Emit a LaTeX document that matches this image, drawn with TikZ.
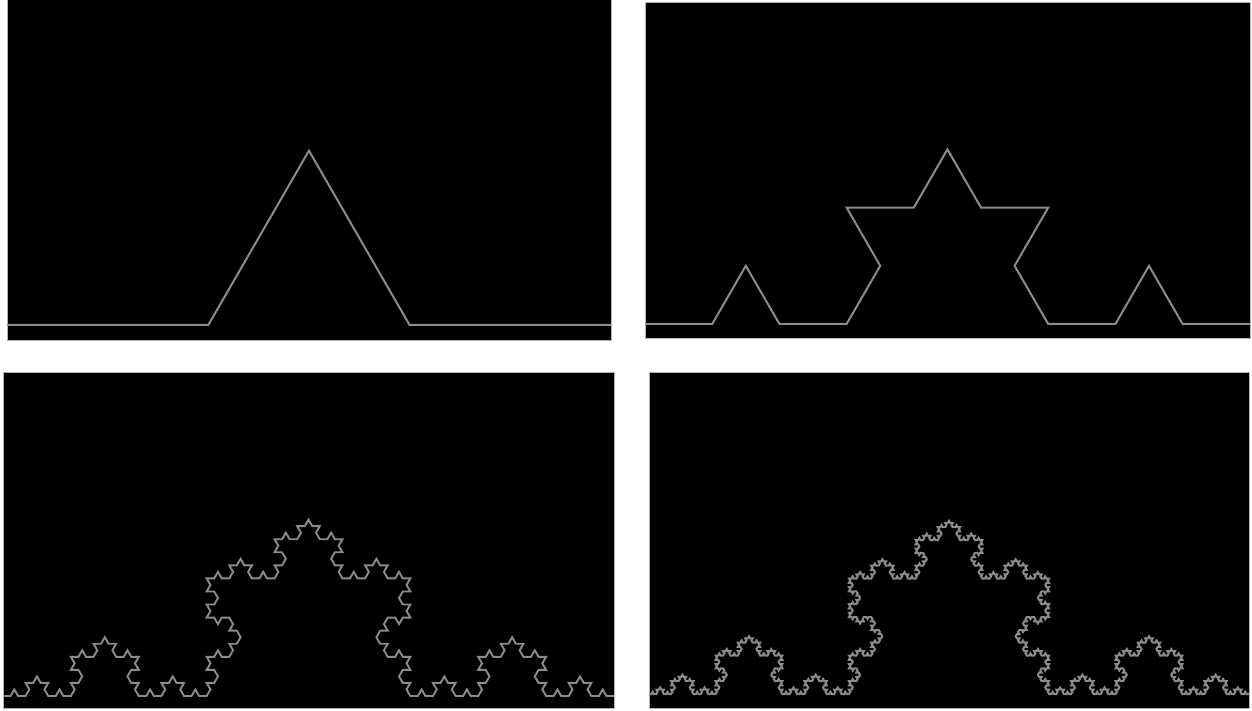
\documentclass[tikz,border=0pt]{standalone}
\usepackage{tikz}
\usetikzlibrary{lindenmayersystems}

% Koch curve rule
\pgfdeclarelindenmayersystem{Koch}{
  \rule{F -> F+F--F+F}
}

\begin{document}
\begin{tikzpicture}[
    x=1pt, y=1pt,
    panel/.style={fill=black, draw=gray!60, line width=0.8pt},
    koch/.style={draw=gray!90!white, line width=2pt, line join=miter}
]
\useasboundingbox (0,0) rectangle (1252,710);

%% ── Panels ──────────────────────────────────────────────────────────────
\path[panel] (7,370)   rectangle (611,712);
\path[panel] (645,372) rectangle (1250,708);
\path[panel] (3,2)     rectangle (614,338);
\path[panel] (649,2)   rectangle (1249,338);

%% ── Koch curves, order 1, 2, 4 and 5 ───────────────────────────────────
\begin{scope}[shift={(7,385)}]
  \draw[koch, l-system={Koch, axiom=F, order=1, angle=60, step=201.3pt}]
      (0,0) l-system;
\end{scope}
\begin{scope}[shift={(645,386)}]
  \draw[koch, l-system={Koch, axiom=F, order=2, angle=60, step=67.2pt}]
      (0,0) l-system;
\end{scope}
\begin{scope}[shift={(3,14)}]
  \draw[koch, line width=1.9pt, l-system={Koch, axiom=F, order=4, angle=60, step=7.543pt}]
      (0,0) l-system;
\end{scope}
\begin{scope}[shift={(649,16)}]
  \draw[koch, line width=2pt, l-system={Koch, axiom=F, order=5, angle=60, step=2.469pt}]
      (0,0) l-system;
\end{scope}

\end{tikzpicture}
\end{document}
